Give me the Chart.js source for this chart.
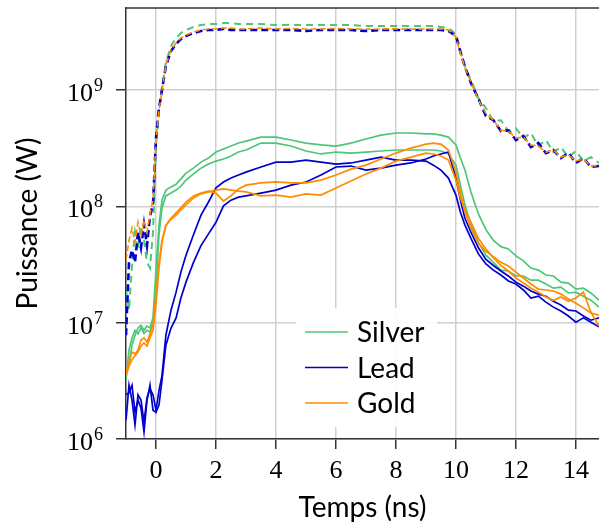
<!DOCTYPE html>
<html>
<head>
<meta charset="utf-8">
<script src="https://cdn.jsdelivr.net/npm/chart.js@4.4.1/dist/chart.umd.min.js"></script>
<style>
  html, body { margin: 0; padding: 0; background: #fff; }
  canvas { display: block; }
</style>
</head>
<body>
<canvas id="powerChart" width="599" height="532"></canvas>
<script>
// time axis (ns), shared by every curve
const temps = [-1, -0.9, -0.8, -0.7, -0.6, -0.5, -0.4, -0.3, -0.2, -0.1,
    0, 0.1, 0.2, 0.33, 0.5, 0.67, 0.83,
    1, 1.25, 1.5, 1.75, 2, 2.25, 2.5, 2.75,
    3, 3.5, 4, 4.5, 5, 5.5, 6, 6.5, 7, 7.5, 8, 8.5, 9, 9.25, 9.5, 9.75,
    10, 10.15, 10.3, 10.5, 10.75, 11, 11.25, 11.5, 11.75, 12, 12.25, 12.5, 12.75, 13, 13.25, 13.5, 13.75, 14, 14.25, 14.5, 14.77];

// dashed curves (W)
const incSilver = [1.91e7, 1.28e7, 3.1e7, 6.0e7, 4.2e7, 6.8e7, 5.1e7, 3.3e7, 2.95e7, 6.0e7,
    3.30e8, 6.5e8, 1.04e9, 1.74e9, 2.39e9, 2.80e9, 3.09e9,
    3.28e9, 3.48e9, 3.62e9, 3.69e9, 3.69e9, 3.77e9, 3.77e9, 3.69e9,
    3.69e9, 3.69e9, 3.62e9, 3.62e9, 3.62e9, 3.62e9, 3.62e9, 3.62e9, 3.55e9, 3.55e9, 3.55e9, 3.55e9, 3.55e9, 3.55e9, 3.48e9, 3.41e9,
    3.03e9, 2.21e9, 1.61e9, 1.22e9, 8.5e8, 7.0e8, 5.4e8, 5.5e8, 4.44e8, 4.7e8, 3.87e8, 4.27e8, 3.30e8, 3.72e8, 2.93e8, 3.23e8, 2.65e8, 2.99e8, 2.45e8, 2.65e8, 2.36e8];
const incLead = [7.8e6, 3.3e7, 4.2e7, 3.3e7, 6.0e7, 4.4e7, 7.0e7, 4.6e7, 8.3e7, 1.03e8,
    3.87e8, 7.0e8, 1.0e9, 1.61e9, 2.16e9, 2.49e9, 2.74e9,
    2.91e9, 3.09e9, 3.22e9, 3.28e9, 3.28e9, 3.35e9, 3.28e9, 3.28e9,
    3.28e9, 3.28e9, 3.28e9, 3.28e9, 3.22e9, 3.28e9, 3.28e9, 3.28e9, 3.22e9, 3.28e9, 3.28e9, 3.28e9, 3.28e9, 3.28e9, 3.28e9, 3.22e9,
    2.91e9, 2.12e9, 1.58e9, 1.15e9, 8.4e8, 5.98e8, 5.5e8, 4.44e8, 4.5e8, 3.72e8, 4.02e8, 3.23e8, 3.50e8, 2.87e8, 3.05e8, 2.60e8, 2.87e8, 2.36e8, 2.60e8, 2.18e8, 2.22e8];
const incGold = [3.45e7, 5.1e7, 6.5e7, 4.9e7, 7.3e7, 5.6e7, 7.6e7, 6.0e7, 8.6e7, 1.13e8,
    3.72e8, 6.7e8, 1.0e9, 1.64e9, 2.21e9, 2.54e9, 2.80e9,
    2.97e9, 3.15e9, 3.28e9, 3.35e9, 3.35e9, 3.41e9, 3.41e9, 3.35e9,
    3.35e9, 3.41e9, 3.35e9, 3.38e9, 3.35e9, 3.35e9, 3.38e9, 3.35e9, 3.33e9, 3.35e9, 3.36e9, 3.33e9, 3.35e9, 3.35e9, 3.35e9, 3.28e9,
    2.86e9, 2.08e9, 1.55e9, 1.17e9, 8.2e8, 6.3e8, 5.5e8, 4.5e8, 4.44e8, 3.87e8, 3.94e8, 3.37e8, 3.30e8, 2.93e8, 3.05e8, 2.65e8, 2.76e8, 2.45e8, 2.55e8, 2.22e8, 2.26e8];

// solid curves (W), two shots per material
const silverA = [3.8e6, 4.3e6, 6.4e6, 7.8e6, 9.0e6, 9.5e6, 8.6e6, 9.35e6, 9.0e6, 1.10e7,
    2.83e7, 6.9e7, 1.13e8, 1.38e8, 1.47e8, 1.55e8, 1.72e8,
    1.93e8, 2.13e8, 2.40e8, 2.60e8, 2.93e8, 3.11e8, 3.30e8, 3.50e8,
    3.64e8, 3.94e8, 3.94e8, 3.72e8, 3.50e8, 3.37e8, 3.30e8, 3.50e8, 3.79e8, 4.10e8, 4.27e8, 4.27e8, 4.19e8, 4.19e8, 4.10e8, 3.94e8,
    3.37e8, 2.60e8, 2.05e8, 1.33e8, 8.6e7, 6.3e7, 5.1e7, 4.5e7, 4.3e7, 3.75e7, 3.4e7, 2.95e7, 2.83e7, 2.57e7, 2.52e7, 2.23e7, 2.19e7, 1.94e7, 1.98e7, 1.80e7, 1.56e7];
const silverB = [3.2e6, 5.8e6, 7.4e6, 8.6e6, 8.0e6, 9.0e6, 8.1e6, 8.6e6, 8.3e6, 1.01e7,
    2.10e7, 5.7e7, 9.7e7, 1.23e8, 1.30e8, 1.38e8, 1.49e8,
    1.68e8, 1.90e8, 2.13e8, 2.31e8, 2.45e8, 2.55e8, 2.71e8, 2.93e8,
    3.05e8, 3.50e8, 3.50e8, 3.30e8, 2.99e8, 2.82e8, 2.93e8, 2.87e8, 2.93e8, 2.99e8, 3.05e8, 3.05e8, 3.05e8, 3.05e8, 2.99e8, 2.82e8,
    2.26e8, 1.52e8, 1.03e8, 6.9e7, 4.9e7, 3.8e7, 3.3e7, 2.83e7, 2.78e7, 2.52e7, 2.52e7, 2.32e7, 2.32e7, 2.15e7, 1.98e7, 2.02e7, 1.80e7, 1.83e7, 1.69e7, 1.56e7, 1.36e7];
const leadA = [1.45e6, 2.9e6, 2.16e6, 1.32e6, 2.4e6, 2.16e6, 1.40e6, 2.25e6, 2.7e6, 2.4e6,
    1.77e6, 2.6e6, 3.5e6, 7.8e6, 1.28e7, 1.83e7, 2.72e7,
    3.8e7, 5.7e7, 8.4e7, 1.09e8, 1.44e8, 1.62e8, 1.75e8, 1.86e8,
    1.97e8, 2.18e8, 2.40e8, 2.40e8, 2.50e8, 2.40e8, 2.31e8, 2.36e8, 2.50e8, 2.65e8, 2.50e8, 2.50e8, 2.45e8, 2.26e8, 2.05e8, 1.75e8,
    1.25e8, 8.9e7, 6.9e7, 5.3e7, 3.9e7, 3.2e7, 2.83e7, 2.57e7, 2.28e7, 2.15e7, 1.91e7, 1.63e7, 1.69e7, 1.50e7, 1.36e7, 1.26e7, 1.14e7, 1.01e7, 1.10e7, 1.01e7, 9.2e6];
const leadB = [2.4e6, 2.5e6, 2.9e6, 1.70e6, 2.16e6, 1.84e6, 1.15e6, 2.16e6, 2.9e6, 1.77e6,
    1.70e6, 1.96e6, 3.2e6, 6.4e6, 9.0e6, 1.10e7, 1.63e7,
    2.23e7, 3.3e7, 4.6e7, 5.8e7, 7.3e7, 1.01e8, 1.13e8, 1.20e8,
    1.23e8, 1.30e8, 1.38e8, 1.52e8, 1.62e8, 1.86e8, 2.18e8, 2.22e8, 2.05e8, 2.13e8, 2.26e8, 2.36e8, 2.55e8, 2.71e8, 2.82e8, 2.93e8,
    1.75e8, 1.13e8, 7.9e7, 6.0e7, 4.4e7, 3.5e7, 3.1e7, 2.78e7, 2.52e7, 2.23e7, 2.06e7, 1.87e7, 1.76e7, 1.69e7, 1.53e7, 1.42e7, 1.28e7, 1.26e7, 1.14e7, 1.05e7, 1.10e7];
const goldA = [3.8e6, 4.6e6, 5.6e6, 5.4e6, 5.8e6, 7.1e6, 7.4e6, 6.8e6, 8.0e6, 9.5e6,
    1.73e7, 3.3e7, 5.1e7, 6.9e7, 7.9e7, 8.8e7, 9.7e7,
    1.09e8, 1.23e8, 1.30e8, 1.35e8, 1.30e8, 1.11e8, 1.23e8, 1.41e8,
    1.52e8, 1.59e8, 1.62e8, 1.59e8, 1.59e8, 1.68e8, 1.86e8, 2.09e8, 2.26e8, 2.55e8, 2.87e8, 3.17e8, 3.43e8, 3.50e8, 3.43e8, 3.05e8,
    1.97e8, 1.33e8, 8.9e7, 6.5e7, 4.8e7, 4.1e7, 3.7e7, 3.3e7, 3.07e7, 2.72e7, 2.42e7, 2.15e7, 1.94e7, 1.91e7, 1.87e7, 1.76e7, 1.60e7, 1.47e7, 1.34e7, 1.21e7, 1.16e7];
const goldB = [3.5e6, 4.2e6, 4.8e6, 5.2e6, 5.6e6, 6.3e6, 6.7e6, 6.3e6, 7.4e6, 8.6e6,
    1.42e7, 2.95e7, 4.9e7, 6.8e7, 7.75e7, 8.4e7, 9.3e7,
    1.03e8, 1.18e8, 1.28e8, 1.33e8, 1.38e8, 1.41e8, 1.38e8, 1.35e8,
    1.33e8, 1.23e8, 1.25e8, 1.20e8, 1.28e8, 1.25e8, 1.44e8, 1.65e8, 1.90e8, 2.13e8, 2.45e8, 2.65e8, 2.87e8, 2.82e8, 2.71e8, 2.50e8,
    1.68e8, 1.18e8, 9.3e7, 7.3e7, 5.3e7, 4.3e7, 3.6e7, 3.1e7, 2.78e7, 2.42e7, 2.19e7, 1.98e7, 1.83e7, 1.66e7, 1.56e7, 1.66e7, 1.53e7, 1.63e7, 1.83e7, 1.23e7, 9.35e6];

const xTicks = [0, 2, 4, 6, 8, 10, 12, 14];
const yTicks = [1e6, 1e7, 1e8, 1e9];
const yExponents = ['6', '7', '8', '9'];
const legendLabels = ['Silver', 'Lead', 'Gold'];

const green = '#4cc776';
const blue = '#0000cc';
const orange = '#ff8c00';
const legendColors = [green, blue, orange];

const toPoints = vals => vals.map((v, i) => ({ x: temps[i], y: v }));

function line(vals, color, dash, width) {
    return {
        data: toPoints(vals),
        borderColor: color,
        borderWidth: width,
        borderDash: dash,
        fill: false,
        pointRadius: 0,
        tension: 0
    };
}

// axes frame top line, 10^n labels and the legend box
const extras = {
    id: 'extras',
    afterDraw(chart) {
        const { ctx, chartArea, scales } = chart;
        ctx.save();
        ctx.strokeStyle = '#333';
        ctx.lineWidth = 1.5;
        ctx.beginPath();
        ctx.moveTo(chartArea.left, chartArea.top);
        ctx.lineTo(chartArea.right, chartArea.top);
        ctx.stroke();

        ctx.fillStyle = '#000';
        ctx.textAlign = 'right';
        ctx.textBaseline = 'alphabetic';
        yTicks.forEach((v, i) => {
            const y = scales.y.getPixelForValue(v);
            ctx.font = '18px "Liberation Serif"';
            ctx.fillText(yExponents[i], 103, y + 1);
            const w = ctx.measureText(yExponents[i]).width;
            ctx.font = '26px "Liberation Serif"';
            ctx.fillText('10', 102 - w, y + 11);
        });

        ctx.fillStyle = 'rgba(255,255,255,0.95)';
        ctx.fillRect(296, 308, 141, 119);
        ctx.textAlign = 'left';
        ctx.textBaseline = 'middle';
        ctx.font = '28px Lato';
        legendLabels.forEach((label, i) => {
            const y = 332 + i * 35.5;
            ctx.strokeStyle = legendColors[i];
            ctx.lineWidth = 1.7;
            ctx.beginPath();
            ctx.moveTo(305, y);
            ctx.lineTo(348, y);
            ctx.stroke();
            ctx.fillStyle = '#000';
            ctx.fillText(label, 357, y + 1);
        });
        ctx.restore();
    }
};

const gridStyle = { color: '#d0d0d0', lineWidth: 1.5, tickLength: 10, tickColor: '#333', tickWidth: 1.5 };
const borderStyle = { color: '#333', width: 1.5 };

new Chart(document.getElementById('powerChart'), {
    type: 'line',
    data: {
        datasets: [
            line(incGold, orange, [6, 3], 1.6),
            line(incLead, blue, [7, 4], 2.6),
            line(incSilver, green, [7, 5], 2),
            line(goldA, orange, [], 1.7),
            line(goldB, orange, [], 1.7),
            line(leadA, blue, [], 1.7),
            line(leadB, blue, [], 1.7),
            line(silverA, green, [], 1.7),
            line(silverB, green, [], 1.7)
        ]
    },
    options: {
        responsive: false,
        animation: false,
        layout: { padding: { top: 8, right: 0, bottom: 0, left: 0 } },
        plugins: { legend: { display: false }, tooltip: { enabled: false } },
        scales: {
            x: {
                type: 'linear',
                min: -1,
                max: 14.77,
                afterBuildTicks: s => { s.ticks = xTicks.map(v => ({ value: v })); },
                afterFit: s => { s.height = 93; },
                grid: gridStyle,
                border: borderStyle,
                ticks: {
                    font: { family: 'Liberation Serif', size: 26, lineHeight: 1 },
                    color: '#000',
                    padding: 9,
                    maxRotation: 0
                },
                title: {
                    display: true,
                    text: 'Temps (ns)',
                    font: { family: 'Lato', size: 28, lineHeight: 1 },
                    color: '#000',
                    padding: { top: 0, bottom: 10 }
                }
            },
            y: {
                type: 'logarithmic',
                min: 1e6,
                max: 5.07e9,
                afterBuildTicks: s => { s.ticks = yTicks.map(v => ({ value: v })); },
                afterFit: s => { s.width = 126; },
                grid: gridStyle,
                border: borderStyle,
                ticks: { display: false },
                title: {
                    display: true,
                    text: 'Puissance (W)',
                    font: { family: 'Lato', size: 28, lineHeight: 1 },
                    color: '#000',
                    padding: { top: 14, bottom: 0 }
                }
            }
        }
    },
    plugins: [extras]
});
</script>
</body>
</html>
